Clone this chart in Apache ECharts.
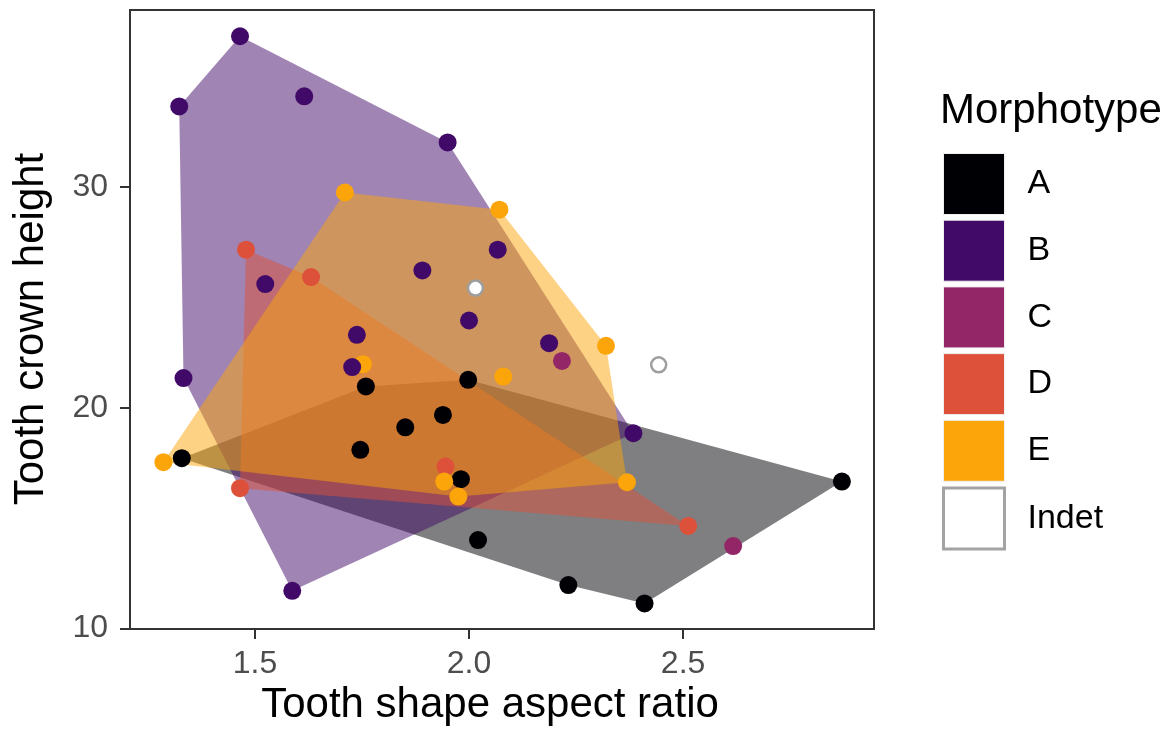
<!DOCTYPE html>
<html>
<head>
<meta charset="utf-8">
<script src="https://cdn.jsdelivr.net/npm/echarts@6/dist/echarts.min.js"></script>
<style>
html,body{margin:0;padding:0;background:#fff;}
#chart{width:1172px;height:731px;}
</style>
</head>
<body>
<div id="chart"></div>
<script>
// ---- data ----
const categories = ['A', 'B', 'C', 'D', 'E', 'Indet'];
const colors = ['#000004', '#420A68', '#932667', '#DD513A', '#FCA50A', '#FFFFFF'];
const xTicks = [1.5, 2.0, 2.5];
const yTicks = [10, 20, 30];

const ptsA = [[1.329,17.72],[1.746,18.10],[1.759,20.97],[1.851,19.12],[1.939,19.68],[1.998,21.27],[1.981,16.77],[2.021,14.01],[2.232,11.97],[2.410,11.14],[2.871,16.66]];
const ptsB = [[1.465,36.84],[1.323,33.66],[1.615,34.12],[1.950,32.03],[1.524,25.61],[1.891,26.23],[2.067,27.17],[2.000,23.96],[1.738,23.31],[1.727,21.85],[1.333,21.35],[2.187,22.93],[2.384,18.85],[1.587,11.71]];
const ptsC = [[2.217,22.13],[2.617,13.74]];
const ptsD = [[1.479,27.17],[1.631,25.93],[1.465,16.36],[1.945,17.34],[2.512,14.65]];
const ptsE = [[1.710,29.76],[2.071,28.98],[1.752,21.98],[2.080,21.42],[1.286,17.54],[1.942,16.66],[1.975,15.98],[2.320,22.81],[2.369,16.63]];
const ptsIndet = [[2.015,25.43],[2.443,21.95]];

const groups = [ptsA, ptsB, ptsC, ptsD, ptsE, ptsIndet];

// ---- helpers ----
function convexHull(points) {
  const p = points.slice().sort((a, b) => a[0] - b[0] || a[1] - b[1]);
  if (p.length < 3) return p;
  const cross = (o, a, b) => (a[0]-o[0])*(b[1]-o[1]) - (a[1]-o[1])*(b[0]-o[0]);
  const lower = [];
  for (const q of p) { while (lower.length >= 2 && cross(lower[lower.length-2], lower[lower.length-1], q) <= 0) lower.pop(); lower.push(q); }
  const upper = [];
  for (let i = p.length - 1; i >= 0; i--) { const q = p[i]; while (upper.length >= 2 && cross(upper[upper.length-2], upper[upper.length-1], q) <= 0) upper.pop(); upper.push(q); }
  upper.pop(); lower.pop();
  return lower.concat(upper);
}
function rgba(hex, a) {
  const n = parseInt(hex.slice(1), 16);
  return 'rgba(' + ((n >> 16) & 255) + ',' + ((n >> 8) & 255) + ',' + (n & 255) + ',' + a + ')';
}

const series = [];
// hulls (A..E, only groups with >=3 points)
for (let i = 0; i < 5; i++) {
  const pts = groups[i];
  if (pts.length < 3) continue;
  const hull = convexHull(pts);
  const fill = rgba(colors[i], 0.5);
  series.push({
    type: 'custom',
    name: 'hull' + categories[i],
    silent: true,
    data: hull,
    encode: { x: 0, y: 1 },
    renderItem: function (params, api) {
      if (params.dataIndex !== 0) return null;
      return {
        type: 'polygon',
        shape: { points: hull.map(h => api.coord(h)) },
        style: { fill: fill, stroke: null }
      };
    },
    z: 1
  });
}
// points
const pointOrder = [3, 0, 4, 1, 2, 5];
for (const i of pointOrder) {
  const isIndet = categories[i] === 'Indet';
  series.push({
    type: 'scatter',
    name: categories[i],
    data: groups[i],
    symbol: 'circle',
    symbolSize: isIndet ? 15 : 18,
    itemStyle: isIndet
      ? { color: '#FFFFFF', borderColor: '#9E9E9E', borderWidth: 2.5, opacity: 1 }
      : { color: colors[i], opacity: 1 },
    emphasis: { disabled: true },
    z: 3
  });
}

const chart = echarts.init(document.getElementById('chart'), null, { renderer: 'canvas' });
const FONT = '"Liberation Sans", Arial, Helvetica, sans-serif';
chart.setOption({
  animation: false,
  backgroundColor: '#ffffff',
  textStyle: { fontFamily: FONT },
  grid: {
    left: 130, right: 298, top: 10, bottom: 102,
    outerBoundsMode: 'none',
    containLabel: false,
    show: true, borderColor: '#333333', borderWidth: 2, backgroundColor: 'transparent'
  },
  xAxis: {
    type: 'value',
    min: 1.208, max: 2.946,
    name: 'Tooth shape aspect ratio',
    nameLocation: 'middle',
    nameGap: 54,
    nameTextStyle: { fontSize: 42, color: '#000', fontFamily: FONT, padding: [0, 24, 0, 0] },
    axisLine: { show: false },
    axisTick: { show: true, length: 10, lineStyle: { color: '#333333', width: 2 }, customValues: xTicks },
    axisLabel: { fontSize: 32, color: '#4D4D4D', margin: 19, fontFamily: FONT, customValues: xTicks, formatter: v => Number(v).toFixed(1) },
    splitLine: { show: false }
  },
  yAxis: {
    type: 'value',
    min: 9.98, max: 38.03,
    name: 'Tooth crown height',
    nameLocation: 'middle',
    nameGap: 78,
    nameTextStyle: { fontSize: 42, color: '#000', fontFamily: FONT, padding: [0, 19, 0, 0] },
    axisLine: { show: false },
    axisTick: { show: true, length: 10, lineStyle: { color: '#333333', width: 2 }, customValues: yTicks },
    axisLabel: { fontSize: 32, color: '#4D4D4D', margin: 22, fontFamily: FONT, customValues: yTicks, formatter: v => String(Math.round(v)) },
    splitLine: { show: false }
  },
  legend: {
    orient: 'vertical',
    left: 942, top: 153,
    padding: 0,
    itemWidth: 61, itemHeight: 61, itemGap: 4.7,
    selectedMode: false,
    textStyle: { fontSize: 34, color: '#000', fontFamily: FONT, padding: [0, 0, 0, 18] },
    data: categories.map((c, i) => ({
      name: c,
      icon: 'rect',
      itemStyle: c === 'Indet'
        ? { color: '#FFFFFF', borderColor: '#A3A3A3', borderWidth: 3 }
        : { color: colors[i], borderColor: '#EEEEEE', borderWidth: 1 }
    }))
  },
  graphic: [{
    type: 'text',
    left: 940, top: 90,
    style: { text: 'Morphotype', fontSize: 42, fill: '#000', fontFamily: FONT }
  }],
  series: series
});
</script>
</body>
</html>
